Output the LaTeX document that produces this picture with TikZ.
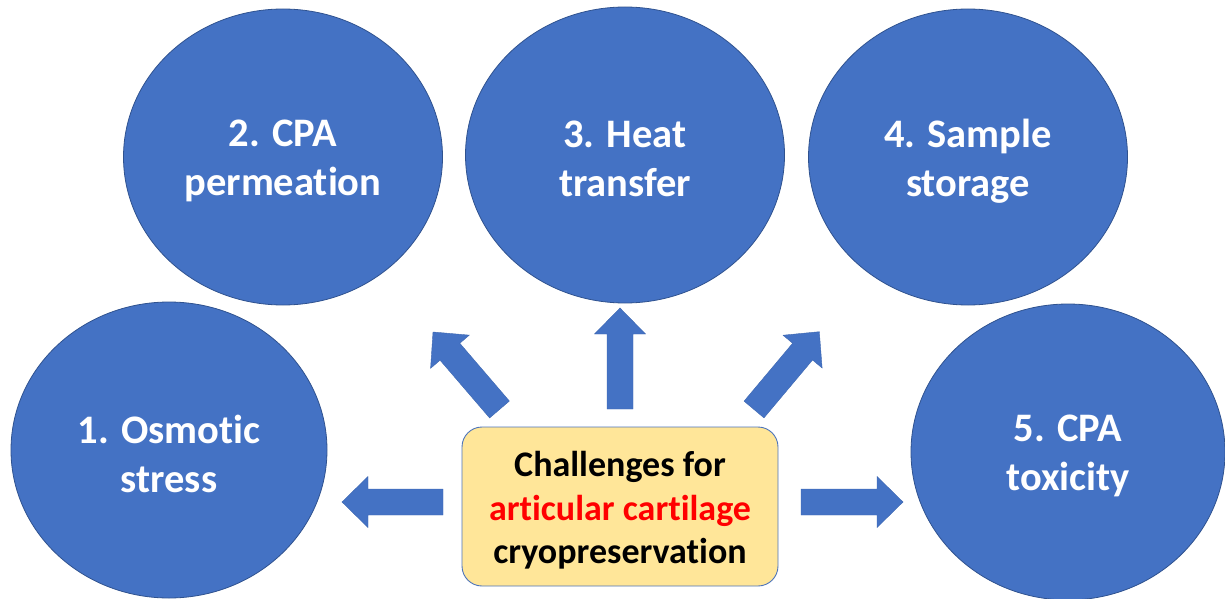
\documentclass[tikz,border=0pt]{standalone}
\usepackage{fontspec}
\setmainfont{Carlito}[Ligatures={NoCommon}]
\usetikzlibrary{shapes.geometric,calc}
\definecolor{cblue}{HTML}{4472C4}
\definecolor{cedge}{HTML}{2F528F}
\definecolor{cyell}{HTML}{FFE699}
\definecolor{cred}{HTML}{FF0000}
\tikzset{
  bubble/.style={ellipse, draw=cedge, line width=0.8pt, fill=cblue, inner sep=0pt},
  btext/.style={label={[text=white, align=center, inner sep=0pt, yshift=-4pt,
    font=\fontsize{40.5}{49}\selectfont\bfseries]center:#1}},
  centerbox/.style={rectangle, rounded corners=20pt, draw=cblue!85!gray, line width=0.9pt,
    fill=cyell, inner sep=0pt, align=center, minimum width=316pt, minimum height=159pt},
  boxtext/.style={label={[align=center, inner sep=0pt, yshift=-4pt,
    font=\fontsize{36}{43.5}\selectfont\bfseries]center:#1}},
  fatfill/.style={fill=cblue, draw=cblue!90!black, line width=0.4pt}
}
\newcommand\fatarrow[2]{%
  \coordinate (fh) at ($(#2)!26pt!(#1)$);
  \path[fatfill] ($(#1)!13pt!90:(#2)$) -- ($(fh)!13pt!90:(#2)$) -- ($(fh)!25.5pt!90:(#2)$)
    -- (#2) -- ($(fh)!25.5pt!-90:(#2)$) -- ($(fh)!13pt!-90:(#2)$) -- ($(#1)!13pt!-90:(#2)$) -- cycle;}
\begin{document}
\begin{tikzpicture}[x=1pt,y=-1pt]
\useasboundingbox (0,0) rectangle (1225,599);
\node[bubble, minimum width=316pt, minimum height=296pt, btext={1. Osmotic\\stress}] (e1) at (169,450) {};
\node[bubble, minimum width=319pt, minimum height=296pt, btext={2. CPA\\permeation}] (e2) at (283,157) {};
\node[bubble, minimum width=319pt, minimum height=296pt, btext={3. Heat\\transfer}] (e3) at (625,155) {};
\node[bubble, minimum width=319pt, minimum height=296pt, btext={4. Sample\\storage}] (e4) at (968,157) {};
\node[bubble, minimum width=314pt, minimum height=296pt, btext={5. CPA\\toxicity}] (e5) at (1068,452) {};
\node[centerbox, boxtext={Challenges for\\{\color{cred}articular cartilage}\\cryopreservation}] (box) at (620,506.5) {};
\coordinate (tl0) at (443,502);  \coordinate (tl1) at (342,502);
\coordinate (tr0) at (801,502);  \coordinate (tr1) at (903,502);
\coordinate (tu0) at (620,409);  \coordinate (tu1) at (620,308);
\coordinate (tul0) at (499.5,409.5); \coordinate (tul1) at (433,332);
\coordinate (tur0) at (754,409.5); \coordinate (tur1) at (819.3,331.7);
\fatarrow{tl0}{tl1}
\fatarrow{tr0}{tr1}
\fatarrow{tu0}{tu1}
\fatarrow{tul0}{tul1}
\fatarrow{tur0}{tur1}
\end{tikzpicture}
\end{document}
